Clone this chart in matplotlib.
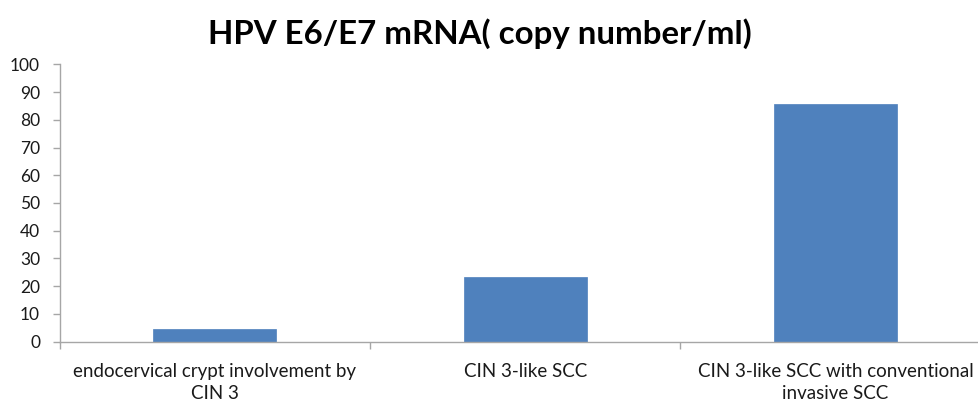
import matplotlib
matplotlib.use("Agg")
import matplotlib.pyplot as plt

# chart data
categories = ["endocervical crypt involvement by\nCIN 3",
              "CIN 3-like SCC",
              "CIN 3-like SCC with conventional\ninvasive SCC"]
values = [4.4, 23.4, 85.8]
yticks = list(range(0, 101, 10))

plt.rcParams['font.family'] = ['Lato', 'DejaVu Sans']

fig = plt.figure(figsize=(9.79, 4.01), dpi=100)
ax = fig.add_axes([0.0608, 0.1479, 1.0 - 0.0608, 0.8397 - 0.1479])

x = list(range(len(values)))
ax.bar(x, values, width=0.397, color='#4F81BD', edgecolor='#4F81BD', linewidth=0.5, zorder=2)

ax.set_xlim(-0.5, 2.462)
ax.set_ylim(0, 100)
ax.set_yticks(yticks)
ax.set_yticklabels([str(v) for v in yticks], fontsize=12.5, color='#1a1a1a')

# category labels centered under bars, ticks at category boundaries
ax.set_xticks(x)
ax.set_xticklabels(categories, fontsize=13.5, color='#1a1a1a', linespacing=1.4)
ax.tick_params(axis='x', which='major', length=0, pad=15)
ax.set_xticks([-0.5, 0.5, 1.5], minor=True)
ax.tick_params(axis='x', which='minor', length=5, color='#A6A6A6', width=1)
ax.tick_params(axis='y', length=5, color='#A6A6A6', width=1, pad=9)

for side in ['top', 'right']:
    ax.spines[side].set_visible(False)
for side in ['left', 'bottom']:
    ax.spines[side].set_color('#A6A6A6')
    ax.spines[side].set_linewidth(1)

fig.text(480 / 979, 1 - 43.5 / 401, "HPV E6/E7 mRNA( copy number/ml)",
         ha='center', va='baseline', fontsize=23.8, fontweight='bold')

fig.savefig("out.png", dpi=100)
